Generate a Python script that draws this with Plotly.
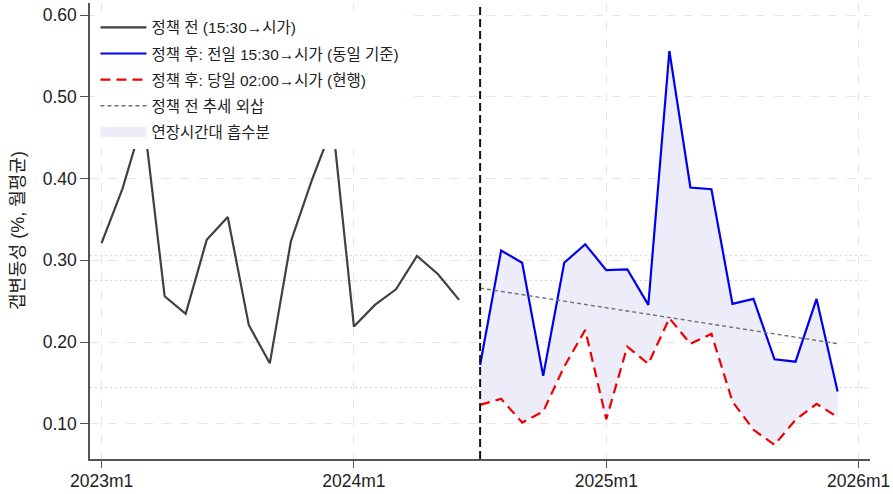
import numpy as np
import plotly.graph_objects as go

# ---- data ----
months = [f"{y}m{m}" for y in (2023, 2024, 2025) for m in range(1, 13)]
pre_values = [0.321, 0.388, 0.475, 0.256, 0.2345, 0.325, 0.353, 0.221, 0.174,
              0.323, 0.398, 0.465, 0.219, 0.2455, 0.2646, 0.3054, 0.283, 0.2516]
post_same = [0.172, 0.312, 0.297, 0.1587, 0.297, 0.3196, 0.288, 0.289, 0.2455,
             0.556, 0.389, 0.387, 0.2467, 0.2528, 0.179, 0.176, 0.2528, 0.1395]
post_current = [0.1232, 0.1306, 0.1016, 0.115, 0.170, 0.2149, 0.1057, 0.1945, 0.1733,
                0.2292, 0.1978, 0.210, 0.1273, 0.0927, 0.0743, 0.1049, 0.1244, 0.1082]
trend_ends = [0.266, 0.198]
tick_labels = ["2023m1", "2024m1", "2025m1", "2026m1"]
tick_pos = [0, 12, 24, 36]
policy_index = 18

names = ["정책 전 (15:30→시가)", "정책 후: 전일 15:30→시가 (동일 기준)",
         "정책 후: 당일 02:00→시가 (현행)", "정책 전 추세 외삽", "연장시간대 흡수분"]

x_pre = list(range(len(pre_values)))
x_post = list(range(policy_index, policy_index + len(post_same)))

FONT = "Liberation Sans, Arial, Noto Sans CJK KR, sans-serif"
FILL = "#ededfa"

fig = go.Figure()

# fill between series
fig.add_trace(go.Scatter(x=x_post, y=post_current, mode="lines", line=dict(width=0),
                         showlegend=False, hoverinfo="skip"))
fig.add_trace(go.Scatter(x=x_post, y=post_same, mode="lines", line=dict(width=0),
                         fill="tonexty", fillcolor=FILL, showlegend=False, hoverinfo="skip"))

fig.add_trace(go.Scatter(x=x_pre, y=pre_values, mode="lines",
                         line=dict(color="#404040", width=2.2), name=names[0],
                         legendrank=1, legendgroup="g1"))
fig.add_trace(go.Scatter(x=x_post, y=post_same, mode="lines",
                         line=dict(color="#0000ee", width=2.2), name=names[1],
                         legendrank=2, legendgroup="g2"))
fig.add_trace(go.Scatter(x=x_post, y=post_current, mode="lines",
                         line=dict(color="#ee0000", width=2.2, dash="10px,6px"), name=names[2],
                         legendrank=3, legendgroup="g3"))
fig.add_trace(go.Scatter(x=[x_post[0], x_post[-1]], y=trend_ends, mode="lines",
                         line=dict(color="#707070", width=1.4, dash="4px,3px"), name=names[3],
                         legendrank=4, legendgroup="g4"))
# legend swatch for the filled area
fig.add_trace(go.Scatter(x=[None], y=[None], mode="lines",
                         line=dict(color=FILL, width=17), name=names[4],
                         legendrank=5, legendgroup="g5"))

# mean reference lines (dotted light gray)
for series in (pre_values, post_same, post_current):
    m = float(np.mean(series))
    fig.add_shape(type="line", xref="paper", x0=0, x1=1, yref="y", y0=m, y1=m,
                  line=dict(color="#d4d4d4", width=1, dash="2px,3px"), layer="below")

# policy line
fig.add_shape(type="line", xref="x", x0=policy_index, x1=policy_index, yref="paper",
              y0=0, y1=1, line=dict(color="#111111", width=2, dash="8px,4px"))

fig.add_annotation(text="갭변동성 (%, 월평균)", textangle=-90, xref="paper", yref="paper",
                   x=-0.0923, y=0.5, xanchor="center", yanchor="middle", showarrow=False,
                   font=dict(size=18, color="#222222"))

fig.update_layout(
    width=893, height=494,
    margin=dict(l=90, r=23, t=3, b=35),
    paper_bgcolor="white", plot_bgcolor="white",
    font=dict(family=FONT, color="#222222", size=17.5),
    legend=dict(x=0.007, y=0.983, xanchor="left", yanchor="top",
                bgcolor="white", borderwidth=0, font=dict(size=15.5, color="#222222"),
                traceorder="grouped", tracegroupgap=3, itemwidth=46),
    showlegend=True,
)
fig.update_xaxes(range=[-0.55, 36.54], tickvals=tick_pos, ticktext=tick_labels,
                 automargin=False,
                 showline=True, linecolor="#555555", linewidth=1.5,
                 ticks="outside", ticklen=7, tickcolor="#555555",
                 showgrid=True, gridcolor="#e6e6e6", griddash="dash", gridwidth=1,
                 zeroline=False, tickfont=dict(size=17.5), ticklabelstandoff=-2,
                 ticklabeloverflow="allow")
fig.update_yaxes(range=[0.057, 0.6147], tickvals=[0.1, 0.2, 0.3, 0.4, 0.5, 0.6],
                 tickformat=".2f", automargin=False,
                 showline=True, linecolor="#555555", linewidth=1.5,
                 ticks="outside", ticklen=8, tickcolor="#555555",
                 showgrid=True, gridcolor="#e6e6e6", griddash="dash", gridwidth=1,
                 zeroline=False, tickfont=dict(size=17.5), ticklabeloverflow="allow")

fig.write_html("out.html", config={"displayModeBar": False},
               post_script="document.body.style.margin='0';")
